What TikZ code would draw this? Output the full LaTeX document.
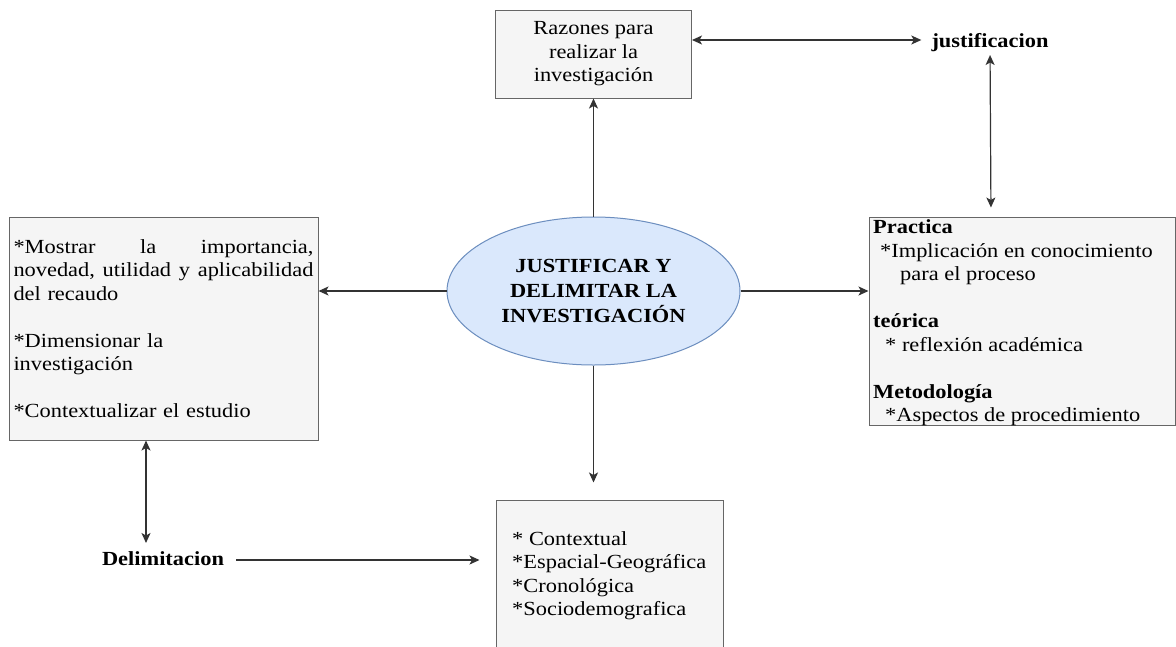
\documentclass[tikz,border=0pt]{standalone}
\usepackage{fontspec}
\setmainfont{Liberation Serif}[FakeStretch=1.12]
\usetikzlibrary{shapes.geometric,arrows.meta,calc}
\definecolor{boxfill}{HTML}{F5F5F5}
\definecolor{boxline}{HTML}{666666}
\definecolor{ellfill}{HTML}{DAE8FC}
\definecolor{ellline}{HTML}{6C8EBF}
\definecolor{linecol}{HTML}{333333}
\begin{document}
\begin{tikzpicture}[x=1pt,y=-1pt,
  box/.style={draw=boxline, fill=boxfill, line width=1pt, rectangle, inner sep=0pt},
  txt/.style={font=\fontsize{20}{23.5}\selectfont, inner sep=0pt, text=black},
  btxt/.style={font=\fontsize{20}{23.5}\selectfont\bfseries, inner sep=0pt, text=black},
  tip/.tip={Stealth[length=10pt,width=9pt,inset=2.5pt]},
  arr/.style={draw=linecol, line width=1.2pt, -tip},
  darr/.style={draw=linecol, line width=1.2pt, tip-tip},
]
\clip (0,0) rectangle (1176,646);
\fill[white] (0,0) rectangle (1176,646);

% top box
\node[box, minimum width=196, minimum height=88, txt, align=center] (tbox) at (593.5,54)
  {Razones para\\realizar la\\investigación};

% justificacion
\node[btxt, anchor=base] (just) at (990,47) {justificacion};

% central ellipse
\node[ellipse, draw=ellline, fill=ellfill, line width=1pt, minimum width=293, minimum height=148,
  inner sep=0pt, align=center, font=\fontsize{20}{25}\selectfont\bfseries] (ell) at (593.5,291)
  {JUSTIFICAR Y\\DELIMITAR LA\\INVESTIGACIÓN};

% left box
\node[box, minimum width=309, minimum height=223, txt, text width=300pt, align=left] (lbox) at (163.5,328.5)
  {\makebox[300pt][s]{*Mostrar\hfill la\hfill importancia,}\\
   \makebox[300pt][s]{novedad,\ \hfill utilidad\ \hfill y\ \hfill aplicabilidad}\\
   del recaudo\\[23.5pt]
   *Dimensionar la\\
   investigación\\[23.5pt]
   *Contextualizar el estudio};

% right box
\node[box, minimum width=306, minimum height=208] (rbox) at (1022,321) {};
\node[txt, anchor=north west, align=left] (rtext) at (873,219.8)
  {\textbf{Practica}\\
   \hspace*{7pt}*Implicación en conocimiento\\
   \hspace*{27pt}para el proceso\\[23.5pt]
   \textbf{teórica}\\
   \hspace*{12pt}* reflexión académica\\[23.5pt]
   \textbf{Metodología}\\
   \hspace*{12pt}*Aspectos de procedimiento};

% bottom box
\node[box, minimum width=227, minimum height=180] (bbox) at (609.5,590) {};
\node[txt, anchor=north west, align=left] (btext) at (512,531.3)
  {* Contextual\\
   *Espacial-Geográfica\\
   *Cronológica\\
   *Sociodemografica};

% Delimitacion
\node[btxt, anchor=base] (delim) at (163,565) {Delimitacion};
\coordinate (dtop) at (146,543);

% connectors
\draw[arr] (ell.north) -- (tbox.south);
\draw[arr] (ell.west) -- (ell.west -| lbox.east);
\draw[arr] (ell.east) -- (ell.east -| rbox.west);
\draw[arr, shorten >=17pt] (ell.south) -- (ell.south |- bbox.north);
\draw[darr, shorten >=10pt] (tbox.east |- 0,40) -- (just.west |- 0,40);
\draw[darr, shorten <=8pt, shorten >=9pt] (991,47 -| just.south) -- (991,47 |- rbox.north);
\draw[darr] (lbox.south -| dtop) -- (dtop);
\draw[arr, shorten <=12pt, shorten >=16pt] (delim.east |- 0,560) -- (bbox.west |- 0,560);
\end{tikzpicture}
\end{document}
